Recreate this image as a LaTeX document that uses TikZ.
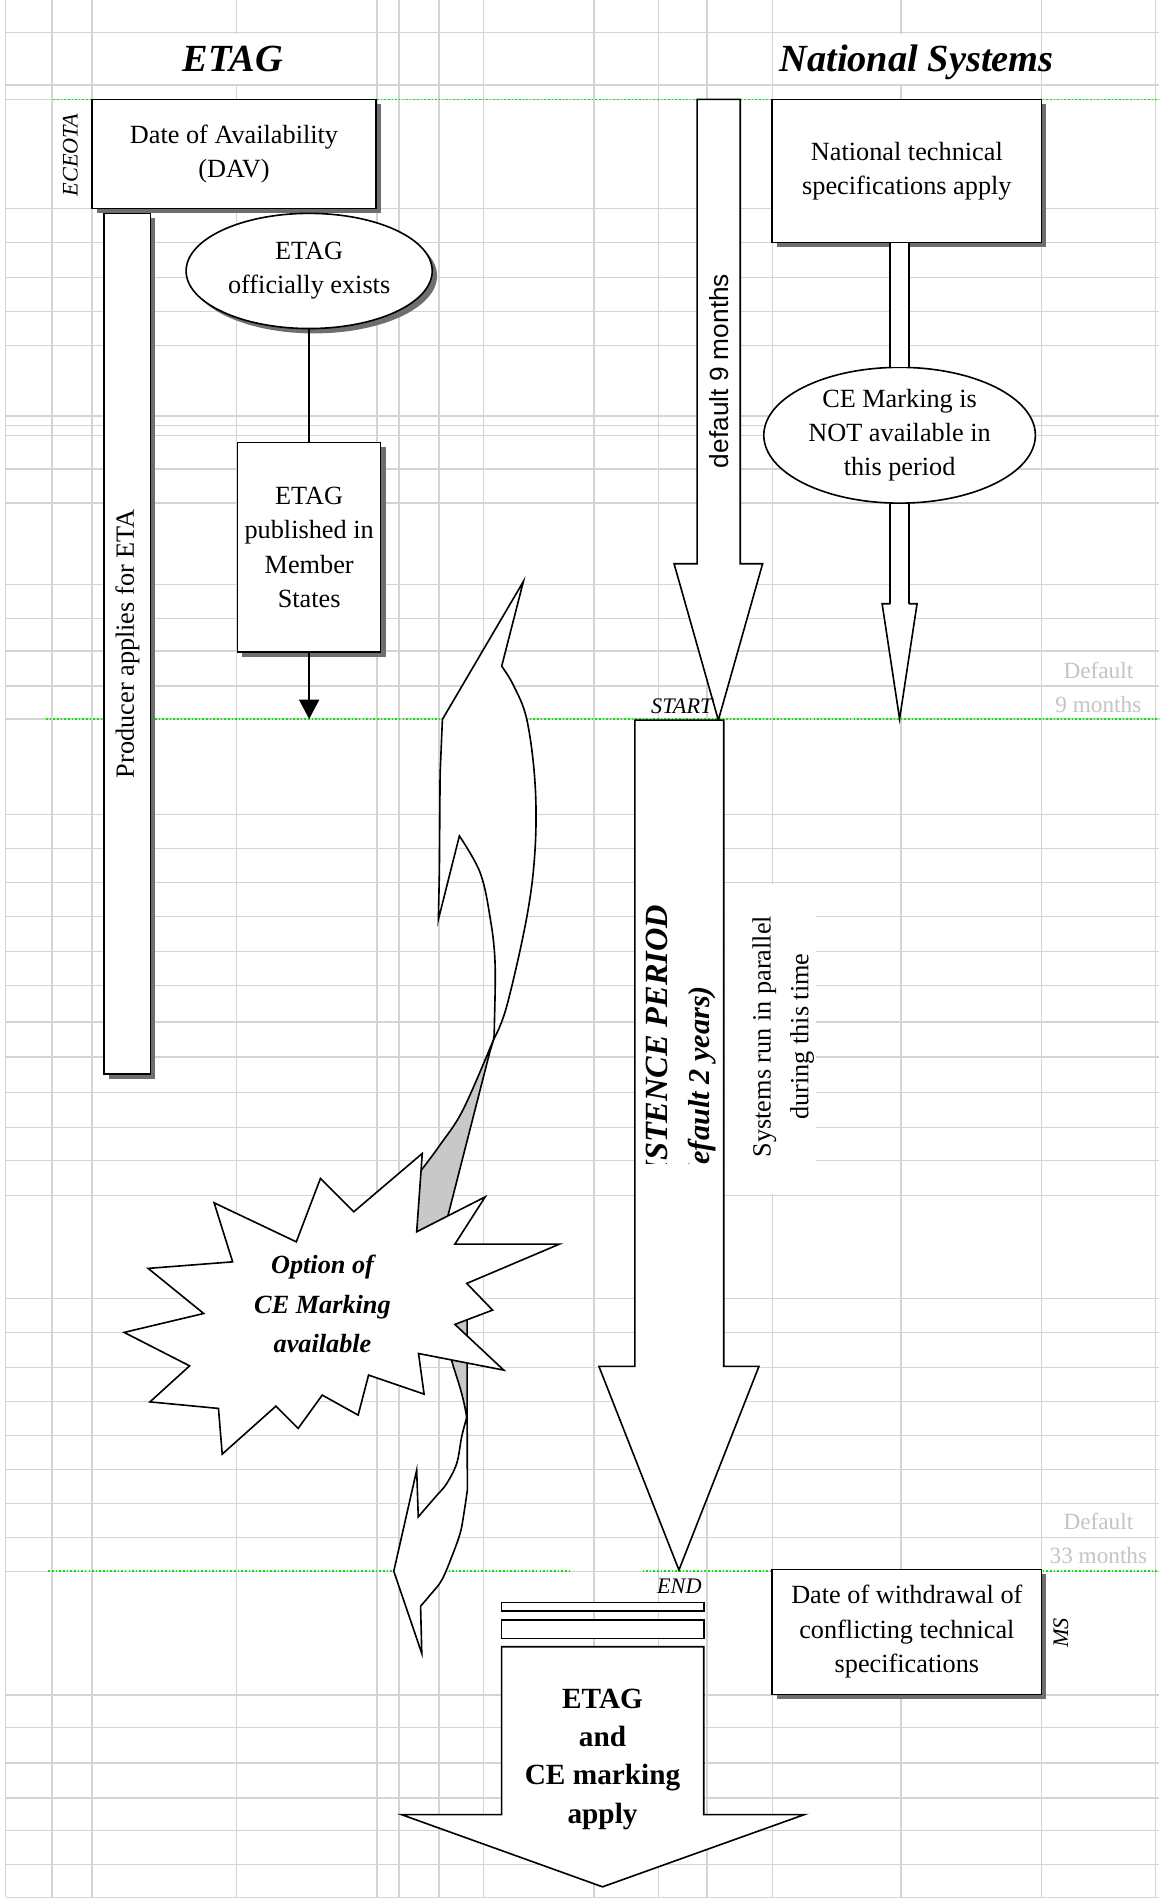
\documentclass[tikz,border=0pt]{standalone}
\usepackage{fontspec}
\setmainfont{Liberation Serif}
\newfontfamily\arialfont{Liberation Sans}
\usetikzlibrary{shapes.geometric,arrows.meta,shadows}
\definecolor{gridgrey}{RGB}{212,212,212}
\definecolor{markgreen}{RGB}{0,235,0}
\definecolor{shadowgrey}{RGB}{110,110,110}
\definecolor{facegrey}{RGB}{200,200,200}
\definecolor{faintgrey}{RGB}{196,196,196}
\newcommand{\gu}{0.6pt}

\begin{document}
\begin{tikzpicture}[
    x=0.6pt, y=-0.6pt,
    cellline/.style={draw=gridgrey, line width=0.7pt},
    dateline/.style={draw=markgreen, densely dotted, line width=0.8pt},
    shade/.style={drop shadow={shadow xshift=2.4pt, shadow yshift=-2.4pt, fill=shadowgrey, opacity=1}},
    box/.style={rectangle, draw, line width=0.8pt, fill=white, align=center, inner sep=0pt, font=\fontsize{13}{17}\selectfont},
    oval/.style={ellipse, draw, line width=0.8pt, fill=white, align=center, inner sep=0pt, font=\fontsize{13}{17}\selectfont},
    blockarrow/.style={draw, line width=0.8pt, fill=white, line join=miter},
    lbl/.style={font=\itshape\fontsize{11}{13}\selectfont, inner sep=0pt},
    faint/.style={text=faintgrey, align=center, font=\fontsize{11.5}{16.8}\selectfont},
    title/.style={font=\bfseries\itshape\fontsize{19}{22}\selectfont, anchor=base, inner sep=0pt}
]
\useasboundingbox (0,0) rectangle (956,1568);
\fill[white] (0,0) rectangle (956,1568);

%, Sheet grid ---
\foreach \gx in {4.6,43,76,195,311,329,362,399,490,543,583,637,743,859,953}
    \draw[cellline] (\gx,0) -- (\gx,1565);
\foreach \gy in {27,70,82,172,200,229,257,285,343,351,359,387,415,482,510,537,566,593,672,700,728,756,785,813,843,872,901,930,957,986,1071,1099,1128,1156,1184,1212,1240,1268,1296,1398,1425,1454,1483,1510,1538,1565}
    \draw[cellline] (4.6,\gy) -- (956,\gy);
% merged cells
\fill[white] (77,28) rectangle (310,69);
\fill[white] (638,28) rectangle (858,69);
\fill[white] (598,729) rectangle (673,985);

% Date lines
\draw[dateline] (44,82) -- (956,82);
\draw[dateline] (38,593) -- (956,593);
\draw[dateline] (40,1296) -- (470,1296);
\draw[dateline] (530,1296) -- (956,1296);

% Headings
\node[title] (etagtitle) at (192,59) {ETAG};
\node[title] (nattitle) at (756,59) {National Systems};

\node[faint] (dflt9) at (906,567) {Default\\9 months};
\node[faint] (dflt33) at (906,1269) {Default\\33 months};

%, ETAG side ---
\node[box, shade, minimum width=234*\gu, minimum height=90*\gu] (dav) at (193,127) {Date of Availability\\(DAV)};
\node[lbl, rotate=90] (eceota) at (58,128) {ECEOTA};

\node[box, shade, minimum width=38*\gu, minimum height=710*\gu] (producer) at (105,531) {};
\node[rotate=90, inner sep=0pt, font=\fontsize{13}{17}\selectfont] (producertxt) at (producer.center) {Producer applies for ETA};

\node[oval, shade, minimum width=203*\gu, minimum height=95*\gu] (etagex) at (255,223.5) {ETAG\\officially exists};
\node[box, shade, minimum width=118*\gu, minimum height=173*\gu] (etagpub) at (255,451.5) {ETAG\\published in\\Member\\States};
\coordinate (pubend) at (255,593);
\draw[line width=0.8pt] (etagex) -- (etagpub);
\draw[line width=0.8pt, -{Triangle[width=10pt, length=9.6pt]}] (etagpub) -- (pubend);

%, Curved arrows round the burst ---
\filldraw[blockarrow] (431.7,479.6) -- (364.9,593.4) -- (363,638.5) -- (362.4,719.7) -- (361.6,758.4) -- (378.9,689.5)
    -- plot[smooth, tension=0.6] coordinates {(378.9,689.5) (396,719.7) (404.2,756.5) (408.3,793.4) (407.8,845) (407.3,857)}
    -- plot[smooth, tension=0.6] coordinates {(407.3,857) (418,829.8) (434.5,756.5) (441.3,701) (441.3,645.9) (434.5,593.4) (423.4,565.1) (413.8,549.5)}
    -- cycle;
\filldraw[blockarrow, fill=facegrey] (407.3,857)
    -- plot[smooth, tension=0.6] coordinates {(407.3,857) (382.2,914.8) (363,944.3) (346.5,966.4)}
    -- (340,1030) -- (362.5,1030) -- (404.2,867) -- cycle;
\filldraw[blockarrow, fill=facegrey] (376,1086) -- (385.3,1086) -- (385.3,1172)
    .. controls (382.5,1150) and (376,1135) .. (372.6,1122.4) -- cycle;
\filldraw[blockarrow] (385.3,1168)
    -- plot[smooth, tension=0.6] coordinates {(385.3,1168) (380.8,1185.1) (376.7,1207.1) (368.5,1223.6) (361.6,1231.9)}
    -- (345,1251.1) -- (343.7,1212.6) -- (324.8,1296) -- (347.9,1363.8) -- (346.9,1324.8)
    -- plot[smooth, tension=0.6] coordinates {(346.9,1324.8) (354.7,1315.7) (364.3,1303.4) (372.6,1284.1) (379.5,1264.8) (382.2,1251.1) (385.5,1229)}
    -- cycle;

% Burst
\filldraw[blockarrow] (176.6,992.1) -- (244.4,1024.3) -- (264.3,972.0) -- (291.8,999.5) -- (348.3,951.4)
    -- (343.7,1016.0) -- (400.2,987.2) -- (375.2,1026.2) -- (461.4,1026.2) -- (385.0,1058.6)
    -- (406.3,1080.6) -- (375.2,1092.4) -- (415.5,1130.1) -- (345.2,1116.4) -- (349.8,1149.9)
    -- (304.0,1134.2) -- (295.4,1167.2) -- (265.8,1150.7) -- (245.9,1178.2) -- (227.6,1159.8)
    -- (183.3,1199.4) -- (180.2,1161.7) -- (123.7,1156.3) -- (156.4,1126.6) -- (102.4,1099.0)
    -- (168.0,1083.4) -- (122.2,1046.2) -- (191.9,1040.8) -- cycle;
\node[align=center, font=\bfseries\itshape\fontsize{13}{19.5}\selectfont] (option) at (266,1075.5) {Option of\\CE Marking\\available};

%, National side ---
\filldraw[blockarrow] (575,82) -- (610.6,82) -- (610.6,465) -- (629,465) -- (592.5,594) -- (556,465) -- (575,465) -- cycle;
\node[rotate=90, inner sep=0pt, font=\arialfont\fontsize{13}{15}\selectfont] (ninemonths) at (593,306) {default 9 months};

\node[box, shade, minimum width=222*\gu, minimum height=118*\gu] (natspec) at (748,141) {National technical\\specifications apply};
\node[oval, minimum width=224*\gu, minimum height=112*\gu] (cenot) at (742,359) {CE Marking is\\NOT available in\\this period};
\coordinate (cehead) at (742,498);
\draw[double=white, double distance=8.4pt, line width=0.8pt] (natspec.south -| cenot.north) -- (cenot.north);
\draw[double=white, double distance=8.4pt, line width=0.8pt] (cenot.south) -- (cehead);
\filldraw[blockarrow] (734.3,498) -- (727.6,498) -- (742,593) -- (756.4,498) -- (749.7,498);

%, Coexistence period ---
\filldraw[blockarrow] (523.6,594) -- (597,594) -- (597,1127) -- (626,1127) -- (560,1295) -- (494,1127) -- (523.6,1127) -- cycle;
\begin{scope}
    \clip (523.6,594) rectangle (597,960);
    \node[rotate=90, anchor=east, inner sep=0pt, font=\bfseries\itshape\fontsize{16}{18}\selectfont] (coexist) at (542,746) {COEXISTENCE PERIOD};
    \node[rotate=90, anchor=east, inner sep=0pt, font=\bfseries\itshape\fontsize{15}{17}\selectfont] (coexdef) at (579,813) {(default 2 years)};
\end{scope}
\node[lbl, anchor=base east] (start) at (588,588.5) {START};
\node[lbl, anchor=base east] (finish) at (579,1314) {END};
\node[rotate=90, align=center, inner sep=0pt, font=\fontsize{13}{18.6}\selectfont] (parallel) at (646,855) {Systems run in parallel\\during this time};

%, After the end ---
\filldraw[blockarrow] (413.8,1321.8) rectangle (580.5,1328.7);
\filldraw[blockarrow] (413.8,1336.3) rectangle (580.5,1351.4);
\filldraw[blockarrow] (413.8,1358.3) -- (580.5,1358.3) -- (580.5,1496.7) -- (663.5,1496.7) -- (497,1556.3) -- (331.1,1496.7) -- (413.8,1496.7) -- cycle;
\node[align=center, font=\bfseries\fontsize{14.5}{19}\selectfont] (apply) at (497,1451) {ETAG\\and\\CE marking\\apply};

\node[box, shade, minimum width=222*\gu, minimum height=103*\gu] (withdraw) at (748,1346) {Date of withdrawal of\\conflicting technical\\specifications};
\node[lbl, rotate=90] (ms) at (875,1347) {MS};
\end{tikzpicture}
\end{document}
